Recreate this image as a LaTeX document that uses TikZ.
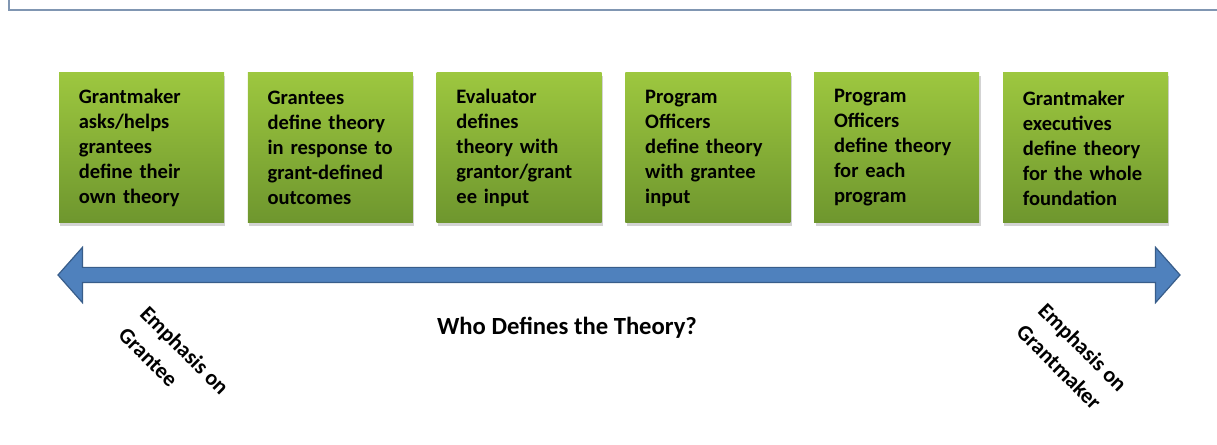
\documentclass[tikz,border=0pt]{standalone}
\usepackage{fontspec}
\setmainfont{Carlito}
\usepackage{tikz}
\usetikzlibrary{shapes.arrows,shadows,positioning}
\definecolor{leafhi}{HTML}{9DC73F}
\definecolor{leaflo}{HTML}{6E962E}
\definecolor{axisblue}{HTML}{4F81BD}
\definecolor{axisline}{HTML}{385D8A}
\definecolor{framegray}{HTML}{8096B2}

\begin{document}
\begin{tikzpicture}[x=0.75pt,y=0.75pt,
			card/.style={top color=leafhi,bottom color=leaflo,draw=none,minimum width=123.75pt,minimum height=112.5pt,text width=94pt,align=left,inner sep=0pt,font=\fontsize{15.4}{18.75}\selectfont\bfseries,drop shadow={opacity=0.35,shadow xshift=1pt,shadow yshift=-2pt}},
			note/.style={rotate=-45,align=left,font=\fontsize{16.5}{23}\selectfont\bfseries}
			]
			\useasboundingbox (0,0) rectangle (1217,445);
			\draw[framegray,line width=1.1pt] (9,445) -- (9,435) -- (1217,435);
			\node[card] (g1) at (141.5,297) {Grantmaker\\asks/helps\\grantees\\define their\\own theory};
			\node[card] (g2) at (330.3,297) {Grantees\\define theory\\in response to\\grant-defined\\outcomes};
			\node[card] (g3) at (519.1,297) {Evaluator\\defines\\theory with\\grantor/grant\\ee input};
			\node[card] (g4) at (707.9,297) {Program\\Officers\\define theory\\with grantee\\input};
			\node[card] (g5) at (896.7,297) {Program\\Officers\\define theory\\for each\\program};
			\node[card] (g6) at (1085.5,297) {Grantmaker\\executives\\define theory\\for the whole\\foundation};
			\node[double arrow,fill=axisblue,draw=axisline,line width=0.9pt,minimum height=841.5pt,minimum width=40.5pt,inner sep=5.25pt,double arrow head extend=15pt,double arrow tip angle=97] (axis) at (619,170) {};
			\node[font=\fontsize{18.5}{22}\selectfont\bfseries] (who) at (567,117) {Who Defines the Theory?};
			\node[note] (lo) at (174,84) {Emphasis on\\Grantee};
			\node[note] (hi) at (1072,87) {Emphasis on\\Grantmaker};
		\end{tikzpicture}
\end{document}
